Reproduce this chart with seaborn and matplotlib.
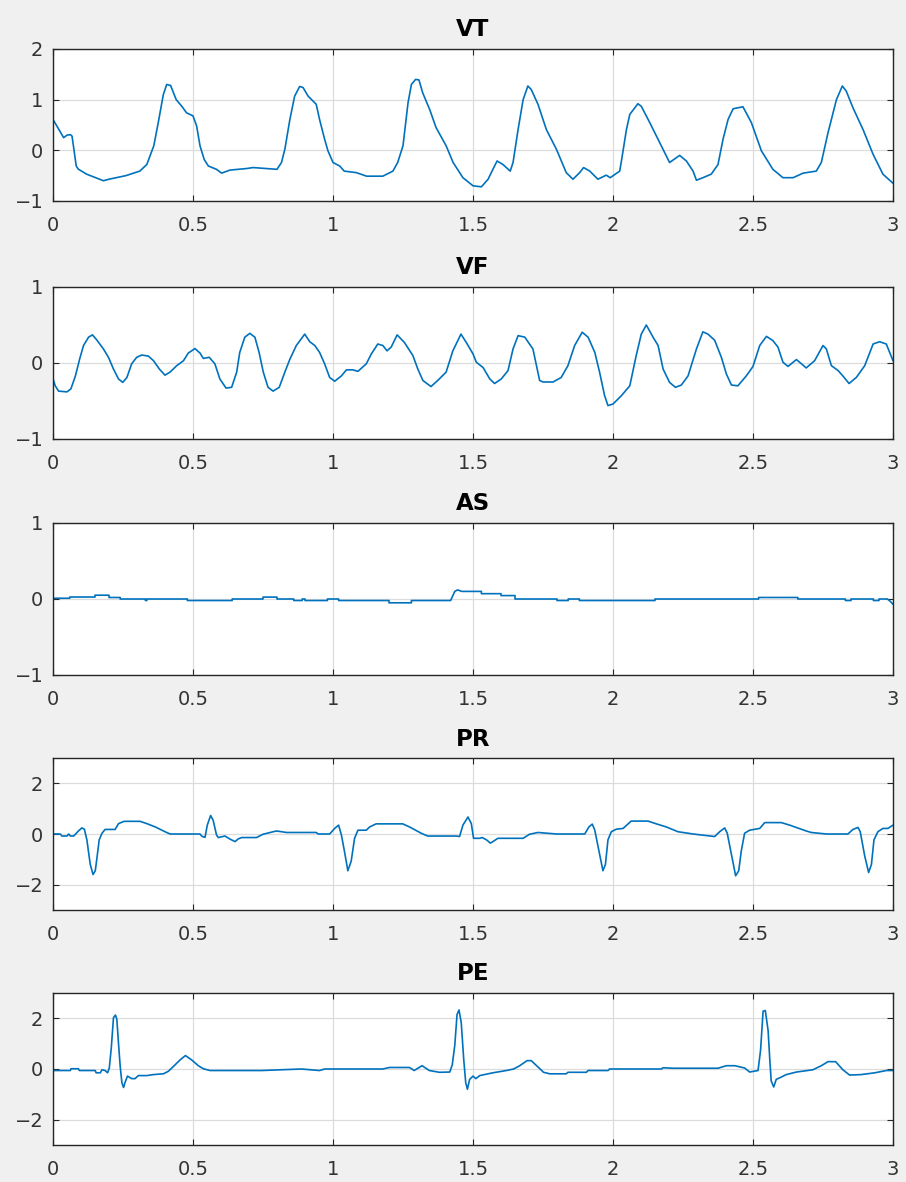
import matplotlib
matplotlib.use("Agg")
import matplotlib.pyplot as plt
import seaborn as sns
import pandas as pd

# signals, (time s, amplitude)
vt = [(0, 0.61), (0.038, 0.25), (0.05, 0.3), (0.062, 0.31), (0.068, 0.28), (0.083, -0.31),
      (0.09, -0.37), (0.12, -0.47), (0.18, -0.6), (0.2, -0.57), (0.26, -0.5), (0.31, -0.41),
      (0.335, -0.28), (0.36, 0.09), (0.376, 0.55), (0.394, 1.1), (0.406, 1.3), (0.42, 1.28),
      (0.44, 1.0), (0.46, 0.87), (0.477, 0.74), (0.5, 0.68), (0.513, 0.48), (0.525, 0.09),
      (0.54, -0.18), (0.555, -0.31), (0.584, -0.375), (0.602, -0.45), (0.632, -0.39),
      (0.69, -0.36), (0.715, -0.34), (0.8, -0.375), (0.816, -0.24), (0.828, 0.02), (0.846, 0.61),
      (0.863, 1.07), (0.881, 1.26), (0.893, 1.24), (0.911, 1.07), (0.94, 0.91), (0.952, 0.61),
      (0.97, 0.22), (0.982, -0.01), (1.0, -0.24), (1.024, -0.31), (1.04, -0.41), (1.083, -0.44),
      (1.12, -0.51), (1.178, -0.51), (1.214, -0.41), (1.231, -0.24), (1.25, 0.09), (1.268, 0.94),
      (1.28, 1.3), (1.295, 1.4), (1.307, 1.39), (1.32, 1.14), (1.345, 0.81), (1.368, 0.45),
      (1.404, 0.09), (1.429, -0.24), (1.464, -0.54), (1.5, -0.7), (1.53, -0.72), (1.554, -0.57),
      (1.571, -0.375), (1.586, -0.21), (1.607, -0.28), (1.633, -0.41), (1.643, -0.24),
      (1.661, 0.41), (1.679, 1.0), (1.696, 1.27), (1.708, 1.2), (1.732, 0.91), (1.762, 0.41),
      (1.798, 0.02), (1.833, -0.44), (1.857, -0.57), (1.881, -0.44), (1.895, -0.34),
      (1.917, -0.41), (1.946, -0.57), (1.976, -0.49), (1.99, -0.54), (2.024, -0.41),
      (2.033, -0.11), (2.048, 0.41), (2.06, 0.71), (2.089, 0.92), (2.101, 0.87), (2.131, 0.55),
      (2.167, 0.15), (2.202, -0.24), (2.238, -0.1), (2.262, -0.21), (2.286, -0.41),
      (2.298, -0.59), (2.321, -0.54), (2.351, -0.47), (2.375, -0.28), (2.393, 0.22),
      (2.411, 0.61), (2.429, 0.82), (2.464, 0.86), (2.494, 0.55), (2.53, -0.01), (2.571, -0.375),
      (2.607, -0.54), (2.643, -0.54), (2.679, -0.45), (2.726, -0.41), (2.744, -0.24),
      (2.768, 0.35), (2.798, 1.0), (2.819, 1.27), (2.833, 1.17), (2.857, 0.84), (2.893, 0.41),
      (2.929, -0.08), (2.964, -0.47), (3.0, -0.65)]

vf = [(0, -0.21), (0.008, -0.3), (0.02, -0.37), (0.05, -0.38), (0.064, -0.34), (0.08, -0.17),
      (0.095, 0.05), (0.109, 0.23), (0.127, 0.34), (0.141, 0.37), (0.157, 0.3), (0.18, 0.185),
      (0.198, 0.075), (0.216, -0.08), (0.234, -0.21), (0.249, -0.255), (0.264, -0.19),
      (0.281, -0.01), (0.299, 0.075), (0.317, 0.105), (0.341, 0.09), (0.359, 0.03),
      (0.38, -0.08), (0.4, -0.16), (0.418, -0.12), (0.442, -0.035), (0.466, 0.03),
      (0.483, 0.13), (0.507, 0.19), (0.525, 0.13), (0.537, 0.06), (0.558, 0.075),
      (0.578, -0.01), (0.596, -0.21), (0.618, -0.33), (0.638, -0.32), (0.656, -0.12),
      (0.667, 0.14), (0.685, 0.34), (0.703, 0.39), (0.721, 0.34), (0.736, 0.14), (0.751, -0.12),
      (0.768, -0.32), (0.786, -0.37), (0.808, -0.32), (0.828, -0.12), (0.846, 0.05),
      (0.869, 0.23), (0.899, 0.38), (0.917, 0.28), (0.935, 0.23), (0.952, 0.14), (0.97, -0.01),
      (0.988, -0.19), (1.006, -0.24), (1.03, -0.17), (1.048, -0.09), (1.071, -0.09),
      (1.089, -0.11), (1.119, -0.01), (1.137, 0.12), (1.16, 0.25), (1.178, 0.23),
      (1.193, 0.16), (1.208, 0.21), (1.229, 0.37), (1.255, 0.27), (1.285, 0.1), (1.303, -0.08),
      (1.321, -0.23), (1.35, -0.31), (1.374, -0.23), (1.404, -0.12), (1.428, 0.16),
      (1.457, 0.38), (1.476, 0.27), (1.5, 0.12), (1.512, 0.01), (1.536, -0.06), (1.56, -0.21),
      (1.577, -0.27), (1.601, -0.21), (1.625, -0.1), (1.643, 0.185), (1.661, 0.36),
      (1.685, 0.34), (1.714, 0.185), (1.738, -0.23), (1.75, -0.25), (1.786, -0.25),
      (1.815, -0.19), (1.839, -0.035), (1.863, 0.23), (1.89, 0.405), (1.911, 0.34),
      (1.935, 0.14), (1.952, -0.12), (1.97, -0.43), (1.982, -0.56), (2.0, -0.54), (2.03, -0.43),
      (2.06, -0.3), (2.083, 0.1), (2.101, 0.38), (2.119, 0.5), (2.143, 0.34), (2.161, 0.23),
      (2.179, -0.08), (2.202, -0.255), (2.223, -0.32), (2.244, -0.29), (2.268, -0.17),
      (2.298, 0.185), (2.321, 0.41), (2.339, 0.38), (2.363, 0.3), (2.387, 0.075),
      (2.405, -0.145), (2.423, -0.29), (2.446, -0.3), (2.476, -0.17), (2.5, -0.045),
      (2.524, 0.23), (2.548, 0.35), (2.571, 0.295), (2.589, 0.21), (2.607, 0.01),
      (2.625, -0.045), (2.655, 0.045), (2.673, -0.01), (2.69, -0.065), (2.72, 0.03),
      (2.75, 0.23), (2.762, 0.185), (2.78, -0.035), (2.804, -0.1), (2.821, -0.17),
      (2.843, -0.27), (2.869, -0.19), (2.899, -0.035), (2.929, 0.25), (2.952, 0.28),
      (2.976, 0.25), (3.0, 0.03)]

as_ = [(0, 0.01), (0.06, 0.01), (0.06, 0.026), (0.15, 0.026), (0.15, 0.05), (0.2, 0.05),
       (0.2, 0.02), (0.24, 0.02), (0.24, 0.0), (0.33, 0.0), (0.33, -0.02), (0.335, -0.02),
       (0.335, 0.0), (0.48, 0.0), (0.48, -0.02), (0.64, -0.02), (0.64, 0.0), (0.75, 0.0),
       (0.75, 0.025), (0.8, 0.025), (0.8, 0.0), (0.86, 0.0), (0.86, -0.02), (0.89, -0.02),
       (0.89, 0.0), (0.9, 0.0), (0.9, -0.02), (0.98, -0.02), (0.98, 0.0), (1.02, 0.0),
       (1.02, -0.02), (1.2, -0.02), (1.2, -0.05), (1.28, -0.05), (1.28, -0.02), (1.42, -0.02),
       (1.435, 0.1), (1.445, 0.12), (1.46, 0.1), (1.53, 0.1), (1.53, 0.07), (1.6, 0.07),
       (1.6, 0.045), (1.65, 0.045), (1.65, 0.0), (1.8, 0.0), (1.8, -0.02), (1.84, -0.02),
       (1.84, 0.0), (1.88, 0.0), (1.88, -0.02), (2.15, -0.02), (2.15, 0.0), (2.52, 0.0),
       (2.52, 0.02), (2.66, 0.02), (2.66, 0.0), (2.83, 0.0), (2.83, -0.02), (2.85, -0.02),
       (2.85, 0.0), (2.93, 0.0), (2.93, -0.02), (2.95, -0.02), (2.95, 0.0), (2.98, 0.0),
       (2.99, -0.03), (3.0, -0.07)]

pr = [(0, 0), (0.026, 0), (0.032, -0.08), (0.05, -0.08), (0.056, 0), (0.062, -0.08),
      (0.074, -0.08), (0.091, 0.12), (0.103, 0.24), (0.112, 0.19), (0.121, -0.23),
      (0.133, -1.2), (0.143, -1.6), (0.151, -1.45), (0.157, -0.94), (0.165, -0.23),
      (0.175, 0.03), (0.186, 0.18), (0.222, 0.18), (0.234, 0.41), (0.254, 0.5), (0.311, 0.5),
      (0.335, 0.41), (0.365, 0.28), (0.4, 0.09), (0.418, 0), (0.525, 0), (0.533, -0.1),
      (0.543, -0.13), (0.551, 0.35), (0.563, 0.73), (0.572, 0.54), (0.584, -0.04),
      (0.59, -0.14), (0.614, -0.08), (0.632, -0.2), (0.65, -0.3), (0.662, -0.19),
      (0.674, -0.14), (0.727, -0.14), (0.75, -0.01), (0.798, 0.12), (0.834, 0.06), (0.94, 0.06),
      (0.947, 0), (0.988, 0), (1.006, 0.22), (1.02, 0.35), (1.03, -0.04), (1.042, -0.75),
      (1.053, -1.45), (1.065, -1.07), (1.077, -0.17), (1.089, 0.15), (1.119, 0.15),
      (1.131, 0.28), (1.154, 0.4), (1.249, 0.4), (1.273, 0.28), (1.315, 0.03), (1.338, -0.08),
      (1.44, -0.08), (1.452, -0.1), (1.464, 0.35), (1.482, 0.67), (1.494, 0.41),
      (1.502, -0.17), (1.524, -0.17), (1.533, -0.14), (1.548, -0.23), (1.562, -0.36),
      (1.571, -0.3), (1.589, -0.17), (1.679, -0.17), (1.702, -0.01), (1.732, 0.06),
      (1.798, 0), (1.899, 0), (1.914, 0.28), (1.926, 0.39), (1.935, 0.15), (1.95, -0.68),
      (1.964, -1.45), (1.973, -1.2), (1.982, -0.23), (1.994, 0.09), (2.012, 0.19),
      (2.036, 0.22), (2.065, 0.51), (2.125, 0.51), (2.155, 0.4), (2.19, 0.28), (2.232, 0.09),
      (2.286, 0), (2.363, -0.1), (2.381, 0.09), (2.399, 0.24), (2.408, 0.03), (2.423, -0.81),
      (2.438, -1.65), (2.449, -1.45), (2.458, -0.68), (2.47, 0.03), (2.488, 0.15),
      (2.524, 0.22), (2.542, 0.45), (2.601, 0.45), (2.631, 0.35), (2.69, 0.12), (2.708, 0.06),
      (2.762, 0), (2.839, 0), (2.857, 0.18), (2.875, 0.26), (2.883, 0.09), (2.899, -0.87),
      (2.913, -1.52), (2.923, -1.2), (2.932, -0.23), (2.946, 0.09), (2.964, 0.22),
      (2.982, 0.22), (3.0, 0.35)]

pe = [(0, -0.06), (0.062, -0.06), (0.064, 0.01), (0.091, 0.01), (0.094, -0.06),
      (0.151, -0.06), (0.154, -0.15), (0.169, -0.15), (0.175, -0.03), (0.186, -0.06),
      (0.195, -0.15), (0.201, 0.04), (0.208, 0.81), (0.216, 2.03), (0.223, 2.13),
      (0.228, 1.96), (0.234, 1.0), (0.24, 0.1), (0.246, -0.54), (0.252, -0.73),
      (0.257, -0.54), (0.266, -0.28), (0.281, -0.38), (0.293, -0.38), (0.305, -0.26),
      (0.335, -0.26), (0.359, -0.22), (0.394, -0.19), (0.412, -0.09), (0.43, 0.1),
      (0.454, 0.36), (0.473, 0.53), (0.495, 0.36), (0.519, 0.13), (0.537, 0.01),
      (0.561, -0.06), (0.745, -0.06), (0.887, 0), (0.952, -0.06), (0.97, 0), (1.178, 0),
      (1.202, 0.06), (1.273, 0.06), (1.29, -0.06), (1.318, 0.13), (1.344, -0.06),
      (1.38, -0.13), (1.417, -0.12), (1.426, 0.17), (1.435, 0.94), (1.443, 2.15),
      (1.45, 2.33), (1.458, 1.83), (1.467, 0.36), (1.474, -0.54), (1.48, -0.8), (1.488, -0.41),
      (1.5, -0.28), (1.51, -0.38), (1.524, -0.26), (1.571, -0.15), (1.619, -0.06),
      (1.645, 0), (1.667, 0.13), (1.693, 0.33), (1.708, 0.33), (1.732, 0.08), (1.752, -0.13),
      (1.774, -0.19), (1.833, -0.19), (1.839, -0.13), (1.905, -0.13), (1.911, -0.06),
      (1.982, -0.06), (1.988, 0), (2.173, 0), (2.179, 0.05), (2.214, 0.03), (2.375, 0.03),
      (2.405, 0.13), (2.435, 0.13), (2.47, 0.04), (2.488, -0.12), (2.518, -0.06),
      (2.527, 0.74), (2.536, 2.28), (2.544, 2.31), (2.554, 1.51), (2.56, 0.36),
      (2.565, -0.47), (2.574, -0.71), (2.583, -0.41), (2.595, -0.35), (2.619, -0.22),
      (2.655, -0.12), (2.714, -0.03), (2.744, 0.13), (2.768, 0.29), (2.795, 0.29),
      (2.821, -0.03), (2.845, -0.24), (2.887, -0.22), (2.935, -0.15), (2.976, -0.06),
      (3.0, -0.06)]

titles = ["VT", "VF", "AS", "PR", "PE"]
signals = [vt, vf, as_, pr, pe]
ylims = [(-1, 2), (-1, 1), (-1, 1), (-3, 3), (-3, 3)]
yticks = [[-1, 0, 1, 2], [-1, 0, 1], [-1, 0, 1], [-2, 0, 2], [-2, 0, 2]]
xticks = [0, 0.5, 1, 1.5, 2, 2.5, 3]
xtick_labels = ["0", "0.5", "1", "1.5", "2", "2.5", "3"]

sns.set_theme(style="whitegrid")
plt.rcParams['font.family'] = ['DejaVu Sans']

W, H = 906, 1182
fig = plt.figure(figsize=(W / 100, H / 100), dpi=100, facecolor="#f0f0f0")

tops = [49, 287, 523, 758, 993]
for i in range(5):
    top = tops[i]
    ax = fig.add_axes([53 / W, 1 - (top + 152) / H, 840 / W, 152 / H])
    df = pd.DataFrame(signals[i], columns=["t", "v"])
    sns.lineplot(data=df, x="t", y="v", ax=ax, color="#0072BD", linewidth=1.2,
                 estimator=None, sort=False)
    ax.set_xlim(0, 3)
    ax.set_ylim(*ylims[i])
    ax.set_xticks(xticks)
    ax.set_xticklabels(xtick_labels)
    ax.set_yticks(yticks[i])
    ax.set_xlabel("")
    ax.set_ylabel("")
    ax.set_title(titles[i], fontsize=16.5, fontweight="bold", color="#000000", pad=9)
    ax.grid(True, color="#dcdcdc", linewidth=0.9)
    for s in ax.spines.values():
        s.set_color("#262626")
        s.set_linewidth(1.0)
    ax.tick_params(direction="in", length=4, width=0.8, color="#262626",
                   top=True, right=True, bottom=True, left=True,
                   labelsize=14, labelcolor="#333333")
    ax.tick_params(axis="x", pad=11)
    ax.tick_params(axis="y", pad=7)

fig.savefig("out.png", dpi=100, facecolor=fig.get_facecolor())
